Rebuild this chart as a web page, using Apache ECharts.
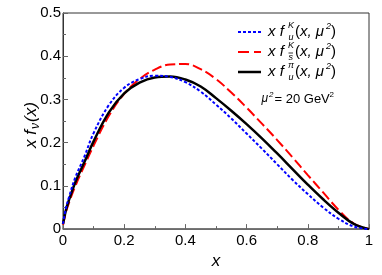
<!DOCTYPE html>
<html><head><meta charset="utf-8">
<script src="https://cdn.jsdelivr.net/npm/echarts@6/dist/echarts.min.js"></script>
<style>html,body{margin:0;padding:0;background:#fff}#c{width:382px;height:275px}</style>
</head><body><div id="c"></div>
<script>
const xs = [0, 0.01, 0.02, 0.04, 0.07, 0.1, 0.15, 0.2, 0.25, 0.3, 0.35, 0.4, 0.45, 0.5, 0.55, 0.6, 0.65, 0.7, 0.75, 0.8, 0.85, 0.9, 0.95, 1];
const kaonU =    [0.012,0.050,0.075,0.119,0.168,0.222,0.287,0.327,0.347,0.355,0.352,0.340,0.318,0.288,0.256,0.221,0.186,0.150,0.114,0.081,0.050,0.024,0.006,0];
const kaonSbar = [0.010,0.040,0.062,0.099,0.147,0.193,0.262,0.313,0.347,0.369,0.381,0.382,0.370,0.347,0.316,0.281,0.244,0.206,0.166,0.125,0.085,0.045,0.013,0];
const pionU =    [0.012,0.045,0.068,0.108,0.155,0.203,0.270,0.314,0.339,0.351,0.353,0.346,0.330,0.303,0.274,0.243,0.210,0.175,0.139,0.103,0.069,0.038,0.012,0];
const xTicks = [0, 0.2, 0.4, 0.6, 0.8, 1];
const yTicks = [0, 0.1, 0.2, 0.3, 0.4, 0.5];

const pair = ys => xs.map((x,i)=>[x, ys[i]]);
const F = '"Liberation Sans", Arial, sans-serif';
const chart = echarts.init(document.getElementById('c'), null, {renderer:'canvas'});

function legendRow(y, sup, sub, subBar){
  const els = [
    {type:'text', x:268, y:y, style:{text:'x f', font:'italic 15px '+F, fill:'#000', verticalAlign:'middle'}},
    {type:'text', x:288, y:y-7, style:{text:sup, font:'italic 9px '+F, fill:'#000', verticalAlign:'middle'}},
    {type:'text', x:288.5, y:y+5, style:{text:sub, font:'italic 9px '+F, fill:'#000', verticalAlign:'middle'}},
    {type:'text', x:295, y:y, style:{text:'(', font:'15px '+F, fill:'#000', verticalAlign:'middle'}},
    {type:'text', x:300, y:y, style:{text:'x, μ', font:'italic 15px '+F, fill:'#000', verticalAlign:'middle'}},
    {type:'text', x:326, y:y-6, style:{text:'2', font:'italic 9px '+F, fill:'#000', verticalAlign:'middle'}},
    {type:'text', x:331, y:y, style:{text:')', font:'15px '+F, fill:'#000', verticalAlign:'middle'}}
  ];
  if (subBar) els.push({type:'line', shape:{x1:288.5,y1:y+1,x2:293,y2:y+1}, style:{stroke:'#000', lineWidth:0.8}});
  return els;
}

const option = {
  animation:false,
  grid:{left:63, right:13, top:13, bottom:44, show:true, borderColor:'#333', borderWidth:1},
  xAxis:{
    type:'value', min:0, max:1, interval:0.2,
    name:'x', nameLocation:'middle', nameGap:20,
    nameTextStyle:{color:'#000', fontFamily:F, fontStyle:'italic', fontSize:17},
    axisLine:{lineStyle:{color:'#666', width:1.5}},
    axisTick:{inside:true, length:5, lineStyle:{color:'#666'}},
    minorTick:{show:true, splitNumber:2, length:3, lineStyle:{color:'#666'}},
    splitLine:{show:false},
    axisLabel:{margin:4, color:'#000', fontFamily:F, fontSize:15, formatter:v=>xTicks.includes(+v.toFixed(2)) ? String(+v.toFixed(1)) : ''}
  },
  yAxis:{
    type:'value', min:0, max:0.5, interval:0.1,
    axisLine:{show:true, lineStyle:{color:'#333', width:1}},
    axisTick:{show:true, inside:true, length:5, lineStyle:{color:'#666'}},
    minorTick:{show:true, splitNumber:2, length:3, lineStyle:{color:'#666'}},
    splitLine:{show:false},
    axisLabel:{margin:2, color:'#000', fontFamily:F, fontSize:15, formatter:v=>{const r=+v.toFixed(2); return yTicks.includes(r)? (r===0?'0':r.toFixed(1)) : '';}}
  },
  series:[
    {type:'line', name:'sbar', data:pair(kaonSbar), smooth:0.4, showSymbol:false, lineStyle:{color:'#ff0000', width:2, type:[10,4]}, z:2},
    {type:'line', name:'pi', data:pair(pionU), smooth:0.4, showSymbol:false, lineStyle:{color:'#000', width:2.5}, z:3},
    {type:'line', name:'u', data:pair(kaonU), smooth:0.4, showSymbol:false, lineStyle:{color:'#0000ff', width:2, type:[3,2]}, z:4}
  ],
  graphic:[].concat(
    [{type:'group', x:31, y:148, rotation:Math.PI/2, children:[
      {type:'text', x:0, y:0, style:{text:'x f', font:'italic 17px '+F, fill:'#000', verticalAlign:'middle'}},
      {type:'text', x:19, y:5, style:{text:'ν', font:'italic 12px '+F, fill:'#000', verticalAlign:'middle'}},
      {type:'text', x:26, y:0, style:{text:'(x)', font:'italic 17px '+F, fill:'#000', verticalAlign:'middle'}}
    ]}],
    [{type:'line', shape:{x1:238,y1:32,x2:261,y2:32}, style:{stroke:'#0000ff', lineWidth:2, lineDash:[3,2]}}],
    [{type:'line', shape:{x1:238,y1:52,x2:261,y2:52}, style:{stroke:'#ff0000', lineWidth:2, lineDash:[11,5]}}],
    [{type:'line', shape:{x1:238,y1:72,x2:261,y2:72}, style:{stroke:'#000', lineWidth:2.5}}],
    legendRow(32,'K','u',false),
    legendRow(52,'K','s',true),
    legendRow(72,'π','u',false),
    [
      {type:'text', x:261.5, y:99, style:{text:'μ', font:'italic 12px '+F, fill:'#000', verticalAlign:'middle'}},
      {type:'text', x:269, y:95, style:{text:'2', font:'italic 8px '+F, fill:'#000', verticalAlign:'middle'}},
      {type:'text', x:274.5, y:99, style:{text:'= 20 GeV', font:'13px '+F, fill:'#000', verticalAlign:'middle'}},
      {type:'text', x:329.5, y:95, style:{text:'2', font:'8px '+F, fill:'#000', verticalAlign:'middle'}}
    ]
  )
};
chart.setOption(option);
</script></body></html>
